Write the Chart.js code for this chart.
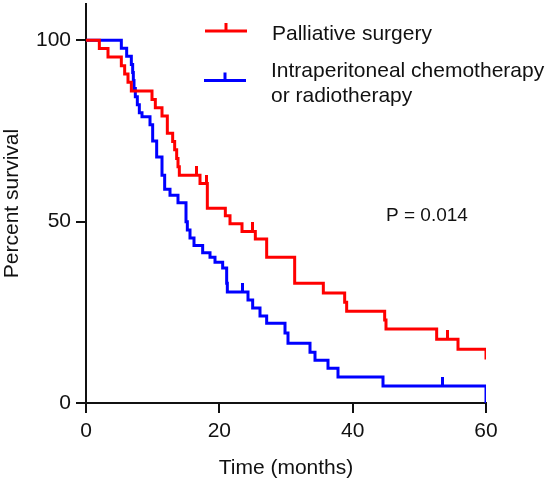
<!DOCTYPE html>
<html>
<head>
<meta charset="utf-8">
<script src="https://cdn.jsdelivr.net/npm/chart.js@4"></script>
<style>
  html, body { margin: 0; padding: 0; background: #fff; }
  #wrap { width: 551px; height: 485px; position: relative; }
</style>
</head>
<body>
<div id="wrap"><canvas id="chart"></canvas></div>
<script>
// Kaplan-Meier curves, survival (%) after each event time (months)
const surgeryTime = [0, 2.0, 3.3, 5.3, 5.8, 6.3, 6.8, 9.9, 10.4, 11.4, 12.2, 13.0, 13.3, 13.6, 13.8, 14.0,
  17.1, 18.2, 20.9, 21.6, 23.4, 25.4, 27.1, 31.3, 35.6, 38.8, 39.1, 44.8, 45.0, 52.6, 55.8, 60];
const surgerySurv = [100, 97.7, 95.4, 93.0, 90.7, 88.4, 86.0, 83.7, 81.4, 79.1, 74.4, 72.1, 69.8, 67.4, 65.1, 62.8,
  60.5, 53.7, 51.6, 49.4, 47.3, 45.2, 40.2, 33.0, 30.3, 27.8, 25.3, 22.9, 20.4, 17.6, 14.8, 12.0];
const surgeryCensorTime = [16.6, 18.0, 24.9, 54.2];
const surgeryCensorSurv = [62.8, 60.5, 47.3, 17.6];

const chemoTime = [0, 5.3, 6.1, 6.8, 7.0, 7.1, 7.2, 7.4, 7.7, 8.0, 8.4, 9.6, 10.0, 10.6, 11.4, 11.8, 12.6, 13.8,
  15.0, 15.2, 15.6, 16.2, 17.5, 18.6, 19.35, 20.5, 21.1, 21.2, 24.3, 25.0, 26.1, 27.1, 29.85, 30.3, 33.6, 34.35,
  36.3, 37.8, 44.55, 60];
const chemoSurv = [100, 97.8, 95.6, 93.3, 91.1, 88.9, 86.7, 84.4, 82.2, 80.0, 78.9, 76.7, 72.2, 67.8, 62.8, 58.9, 57.3, 55.2,
  50.0, 47.7, 45.5, 43.4, 41.4, 40.2, 38.8, 37.2, 33.0, 30.6, 28.4, 26.2, 24.0, 22.0, 19.3, 16.5, 14.0, 11.8,
  9.6, 7.2, 4.7, 0];
const chemoCensorTime = [23.4, 53.4];
const chemoCensorSurv = [30.6, 4.7];

const seriesNames = ['Palliative surgery', ['Intraperitoneal chemotherapy', 'or radiotherapy']];
const seriesColors = ['#ff0000', '#0000ff'];
const xTicks = [0, 20, 40, 60];
const yTicks = [0, 50, 100];
const pValueText = 'P = 0.014';

const FONT = '"Liberation Sans", Arial, sans-serif';
const INK = '#111';

function pts(xs, ys) {
  return xs.map((x, i) => ({ x: x, y: ys[i] }));
}

// censor mark: small vertical tick sitting on top of the line
function censorMark(color) {
  const c = document.createElement('canvas');
  c.width = 3;
  c.height = 18;
  const g = c.getContext('2d');
  g.fillStyle = color;
  g.fillRect(0, 0, 3, 9);
  return c;
}

const overlay = {
  id: 'overlay',
  afterDraw(chart) {
    const ctx = chart.ctx;
    ctx.save();
    // legend
    const rows = [
      { lineY: 31, x0: 205, x1: 247, textX: 272, baselines: [39.5] },
      { lineY: 80.5, x0: 204, x1: 246, textX: 271, baselines: [76.7, 101.7] }
    ];
    rows.forEach((r, i) => {
      ctx.strokeStyle = seriesColors[i];
      ctx.lineWidth = 3;
      ctx.beginPath();
      ctx.moveTo(r.x0, r.lineY);
      ctx.lineTo(r.x1, r.lineY);
      const mid = (r.x0 + r.x1) / 2;
      ctx.moveTo(mid, r.lineY);
      ctx.lineTo(mid, r.lineY - 8);
      ctx.stroke();
      const lines = [].concat(seriesNames[i]);
      ctx.fillStyle = INK;
      ctx.font = '21px ' + FONT;
      ctx.textAlign = 'left';
      ctx.textBaseline = 'alphabetic';
      lines.forEach((t, j) => ctx.fillText(t, r.textX, r.baselines[j]));
    });
    // p value
    ctx.font = '19px ' + FONT;
    ctx.fillText(pValueText, 386, 221);
    ctx.restore();
  }
};

new Chart(document.getElementById('chart'), {
  type: 'scatter',
  data: {
    datasets: [
      {
        data: pts(surgeryTime, surgerySurv),
        showLine: true, stepped: 'before',
        borderColor: seriesColors[0], borderWidth: 3, pointRadius: 0, fill: false
      },
      {
        data: pts(chemoTime, chemoSurv),
        showLine: true, stepped: 'before',
        borderColor: seriesColors[1], borderWidth: 3, pointRadius: 0, fill: false
      },
      {
        data: pts(surgeryCensorTime, surgeryCensorSurv),
        showLine: false, pointStyle: censorMark(seriesColors[0]), pointRadius: 9
      },
      {
        data: pts(chemoCensorTime, chemoCensorSurv),
        showLine: false, pointStyle: censorMark(seriesColors[1]), pointRadius: 9
      }
    ]
  },
  options: {
    responsive: true,
    maintainAspectRatio: false,
    animation: false,
    devicePixelRatio: 1,
    layout: { autoPadding: false, padding: { top: 4, right: 65, left: 0, bottom: 0 } },
    plugins: { legend: { display: false }, tooltip: { enabled: false } },
    scales: {
      x: {
        type: 'linear', min: 0, max: 60,
        afterBuildTicks: (s) => { s.ticks = xTicks.map(v => ({ value: v })); },
        afterFit: (s) => { s.height = 82; },
        ticks: { color: INK, font: { family: FONT, size: 21 }, padding: 6 },
        grid: { drawOnChartArea: false, tickLength: 10, color: INK, lineWidth: 2 },
        border: { color: INK, width: 2 },
        title: { display: true, text: 'Time (months)', color: INK, font: { family: FONT, size: 21 }, padding: { top: 0, bottom: 4 } }
      },
      y: {
        type: 'linear', min: 0, max: 110,
        afterBuildTicks: (s) => { s.ticks = yTicks.map(v => ({ value: v })); },
        afterFit: (s) => { s.width = 86; s.paddingTop = 0; s.paddingBottom = 0; },
        ticks: { color: INK, font: { family: FONT, size: 21 }, padding: 5 },
        grid: { drawOnChartArea: false, tickLength: 10, color: INK, lineWidth: 2 },
        border: { color: INK, width: 2 },
        title: { display: true, text: 'Percent survival', color: INK, font: { family: FONT, size: 21 }, padding: { top: 0, bottom: 0 } }
      }
    }
  },
  plugins: [overlay]
});
</script>
</body>
</html>
